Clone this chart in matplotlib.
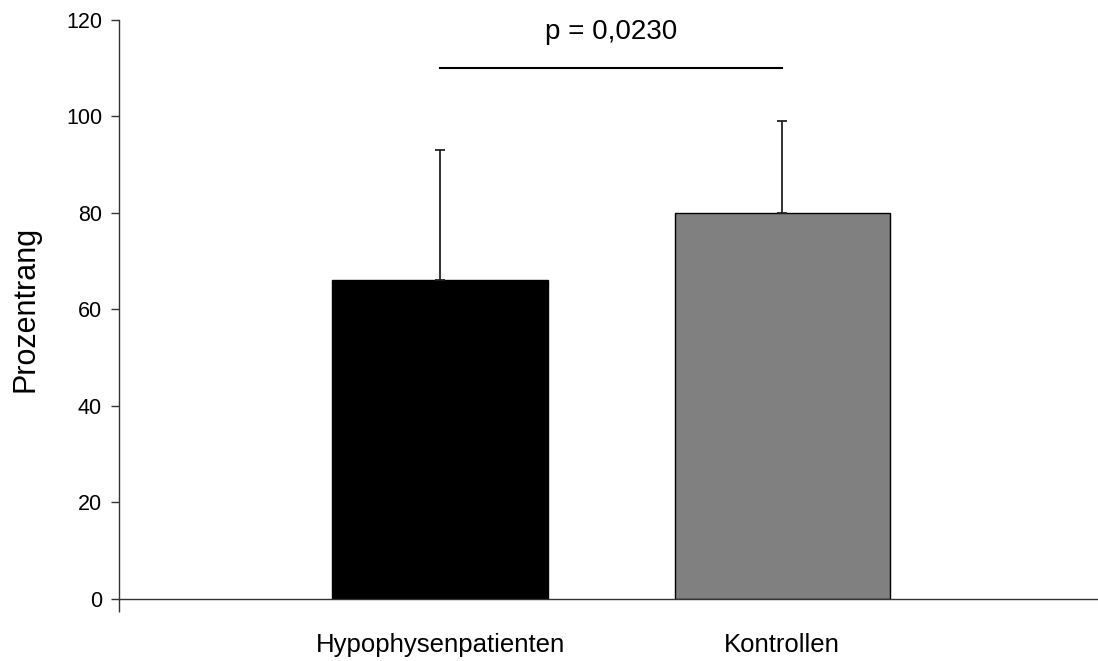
import matplotlib
matplotlib.use("Agg")
import matplotlib.pyplot as plt
import numpy as np

categories = ["Hypophysenpatienten", "Kontrollen"]
means = [66, 80]
sd_upper = [27, 19]
bar_colors = ["#000000", "#808080"]
y_ticks = [0, 20, 40, 60, 80, 100, 120]
p_text = "p = 0,0230"
sig_level = 110

plt.rcParams['font.family'] = ['Liberation Sans', 'DejaVu Sans']

fig = plt.figure(figsize=(10.98, 6.61), dpi=100)
ax = fig.add_axes([118.7 / 1098, 62.3 / 661, (1097 - 118.7) / 1098, (598.7 - 20) / 661])

pos = np.arange(len(categories))
ax.bar(pos, means, width=0.63, color=bar_colors, edgecolor="black", linewidth=1, zorder=2)
ax.errorbar(pos, means, yerr=[np.zeros(len(means)), sd_upper], fmt="none",
            ecolor="#222222", elinewidth=1.3, capsize=3.3, capthick=1.3, zorder=3)

ax.set_xlim(-0.94, 1.92)
ax.set_ylim(0, 120)
ax.set_yticks(y_ticks)
ax.tick_params(axis="y", direction="out", length=6, width=1, labelsize=15.5, pad=6, color="#333333")

ax.set_xticks([-0.94])
ax.set_xticklabels([""])
ax.tick_params(axis="x", which="major", direction="out", length=9, width=1, color="#333333")
ax.set_xticks(pos, labels=categories, minor=True)
ax.tick_params(axis="x", which="minor", length=0, labelsize=18.5, pad=25)

for s in ["top", "right"]:
    ax.spines[s].set_visible(False)
for s in ["left", "bottom"]:
    ax.spines[s].set_color("#333333")
    ax.spines[s].set_linewidth(1)

ax.set_ylabel("Prozentrang", fontsize=22, labelpad=18)

ax.plot([pos[0], pos[1]], [sig_level, sig_level], color="black", linewidth=1.5, clip_on=False)
ax.text((pos[0] + pos[1]) / 2, 117.5, p_text, ha="center", va="center", fontsize=20)

fig.savefig("out.png", dpi=100)
